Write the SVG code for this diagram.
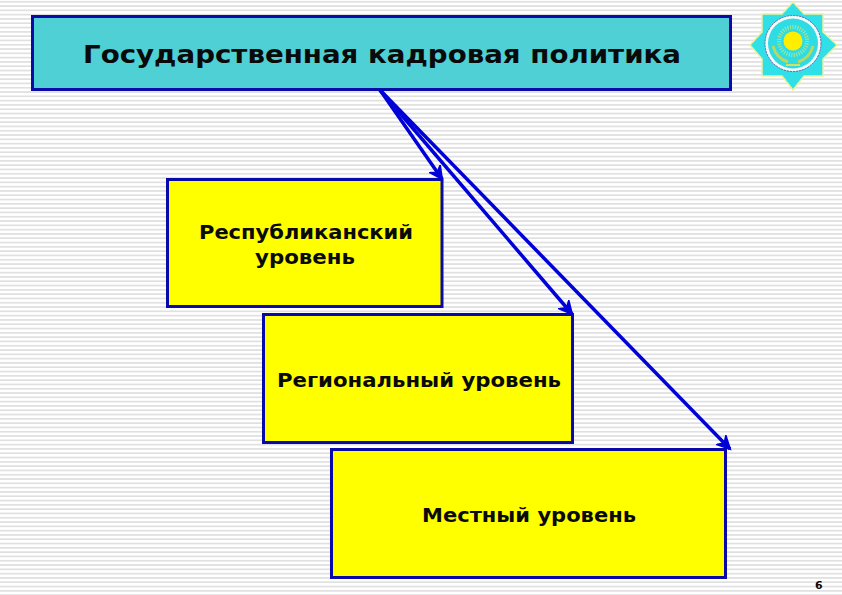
<svg xmlns="http://www.w3.org/2000/svg" width="842" height="595" viewBox="0 0 842 595">
<style>
text{font-family:"DejaVu Sans",sans-serif;font-weight:700;fill:#0a0a0a;text-anchor:start}
.box{fill:#ffff00;stroke:#0a0aa8;stroke-width:3}
.c{fill:none;stroke:#0000d8;stroke-width:3.500;marker-end:url(#a)}
.l{font-size:19.500px}
</style>
<defs>
<pattern id="s" width="842" height="4.300" patternUnits="userSpaceOnUse"><rect width="842" height="4.300" fill="#fff"/><rect y="1" width="842" height="1.500" fill="#dcdcdc"/></pattern>
<marker id="a" markerUnits="userSpaceOnUse" markerWidth="18" markerHeight="18" refX="13" refY="7" orient="auto"><path d="M1 1L13 7L1 13L5 7Z" fill="#0000d8" stroke="#0000d8" stroke-width="2"/></marker>
</defs>
<rect width="842" height="595" fill="url(#s)"/>
<g id="header"><rect x="32.500" y="16.500" width="698" height="73" fill="#4fd0d4" stroke="#0a0aa8" stroke-width="3"/><text x="83" y="63" font-size="25" textLength="598" lengthAdjust="spacingAndGlyphs">Государственная кадровая политика</text></g>
<g id="emblem">
<path d="M793 2L804 14L823 14L823 32L837 45L823 59L823 76L804 76L793 90L782 76L762 76L762 59L750 45L762 32L762 14L782 14Z" fill="#2fe0e8" stroke="#f0f09a" stroke-width="1.500"/>
<circle cx="793" cy="43.500" r="28" fill="#f2fafa" stroke="#7a5a9a" stroke-width="1" stroke-dasharray="2 1"/>
<circle cx="793" cy="43.500" r="25" fill="#30dce4"/>
<circle cx="793" cy="41" r="14" fill="none" stroke="#a8e890" stroke-width="4" stroke-dasharray="1 1.500"/>
<circle cx="793" cy="41" r="9.500" fill="#ffee00"/>
<path d="M773 46Q776 58 788 62M813 46Q810 58 798 62" fill="none" stroke="#b8d860" stroke-width="3"/>
<path d="M786 65H800" stroke="#d8e060" stroke-width="2"/>
</g>
<g id="republic"><rect x="167.500" y="179.500" width="274.500" height="127" class="box"/><text x="199" y="239" class="l" textLength="214" lengthAdjust="spacingAndGlyphs">Республиканский</text><text x="255" y="264" class="l" textLength="100" lengthAdjust="spacingAndGlyphs">уровень</text></g>
<g id="regional"><rect x="263.500" y="314.500" width="309" height="128" class="box"/><text x="277" y="387" class="l" textLength="284" lengthAdjust="spacingAndGlyphs">Региональный уровень</text></g>
<g id="local"><rect x="331.500" y="449.500" width="394" height="128" class="box"/><text x="422" y="522" class="l" textLength="214" lengthAdjust="spacingAndGlyphs">Местный уровень</text></g>
<g id="connectors">
<line class="c" x1="380" y1="90" x2="442" y2="179"/>
<line class="c" x1="380" y1="90" x2="572" y2="314"/>
<line class="c" x1="380" y1="90" x2="730" y2="449"/>
</g>
<text x="815" y="589" font-size="11">6</text>
</svg>
